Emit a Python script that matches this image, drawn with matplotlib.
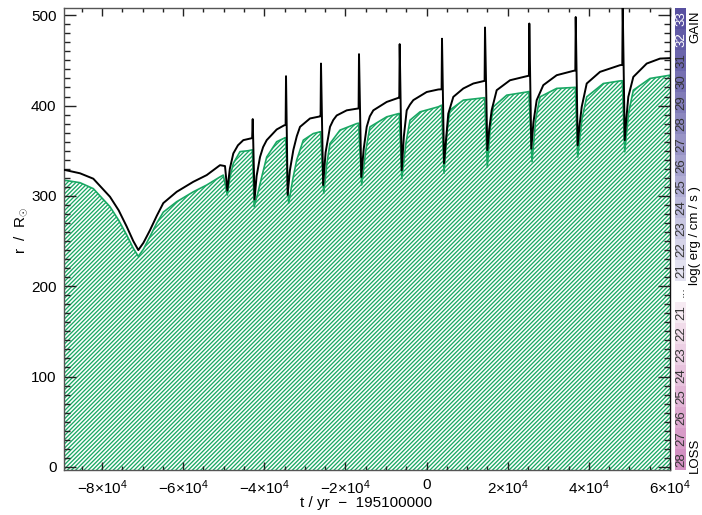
import matplotlib
matplotlib.use('Agg')
import matplotlib.pyplot as plt
from matplotlib.ticker import MultipleLocator

plt.rcParams['font.family'] = ['Liberation Sans', 'DejaVu Sans']
plt.rcParams['mathtext.fontset'] = 'custom'
plt.rcParams['mathtext.rm'] = 'Liberation Sans'
plt.rcParams['mathtext.it'] = 'Liberation Sans:italic'
plt.rcParams['mathtext.sf'] = 'Liberation Sans'
plt.rcParams['hatch.linewidth'] = 0.95

# ---------------- data (time in kyr relative to 195100000 yr) ----------------
t_star_kyr = [
    -89.5, -85.43, -82.15, -78.04, -75.9, -73.92, -72.3, -71.06, -69.8, -68.18, -66.5,
    -64.90, -61.60, -57.5, -54.2, -50.92, -49.69, -49.12, -48.5, -47.64, -46.5, -45.18,
    -43.53, -43.00,
    -42.86, -42.40, -41.9, -41.06, -40.3, -39.41, -36.95, -35.15, -34.75,
    -34.65, -34.25, -33.7, -32.85, -32.0, -31.2, -28.74, -26.27, -26.13,
    -26.03, -25.5, -24.9, -23.81, -23.0, -22.16, -19.69, -17.23, -16.76,
    -16.66, -16.1, -15.5, -14.76, -14.0, -13.13, -9.83, -6.97, -6.73,
    -6.63, -6.13, -5.6, -4.9, -4.1, -3.27, 0.03, 2.89, 3.70,
    3.80, 4.30, 4.79, 5.35, 6.59, 9.05, 11.52, 13.98, 14.30,
    14.40, 14.97, 15.45, 16.05, 17.28, 20.56, 24.68, 25.22,
    25.32, 25.81, 26.35, 27.14, 28.77, 32.07, 36.17, 36.66,
    36.76, 37.25, 37.7, 38.24, 39.47, 42.75, 47.68, 48.24,
    48.34, 48.84, 49.25, 49.72, 50.96, 54.26, 57.54, 60.0,
]
r_star = [
    329, 325, 319, 299, 284, 266, 250, 240, 248, 262, 278,
    292, 304.5, 315.6, 323, 334, 333, 306, 330, 347, 356, 361.7,
    363.4, 364,
    385, 296, 322, 343, 354, 361.7, 373.5, 378, 378.5,
    432.5, 301, 328, 350.7, 366, 376.4, 385.7, 388, 388.2,
    446.5, 312, 348, 376.4, 384, 389, 394.7, 396.5, 396.8,
    456.9, 321, 352, 376.4, 388, 394.7, 404, 408.5, 408.8,
    468, 328.5, 366, 394.7, 401, 406, 415, 417.8, 418,
    474, 336, 362, 391, 409.6, 418.9, 424.4, 427, 427.3,
    486.4, 350.7, 374, 395, 417, 428, 432.5, 433,
    490.8, 352.4, 382, 406, 422.6, 433.6, 438.4, 438.8,
    498, 356, 378, 398.6, 424.4, 437.3, 444.7, 445,
    512, 361.7, 386, 409.6, 431.7, 446.5, 452, 452.5,
]

t_conv_kyr = [
    -89.5, -85.43, -82.15, -78.04, -75.9, -73.92, -72.3, -71.06, -69.8, -68.18, -66.5,
    -64.90, -61.60, -57.5, -54.2, -50.92, -50.11, -49.12, -48.5, -47.64, -45.99,
    -43.95, -42.95,
    -42.5, -41.6, -40.64, -39.41, -36.95, -34.9, -34.75,
    -34.0, -33.0, -32.02, -30.39, -27.92, -26.27, -26.13,
    -25.35, -24.6, -23.81, -21.34, -17.23, -16.76,
    -16.0, -15.0, -13.95, -9.83, -6.97, -6.73,
    -6.1, -5.1, -4.09, -1.62, 2.89, 3.70,
    4.30, 5.0, 5.77, 9.05, 13.98, 14.30,
    14.97, 15.7, 16.45, 19.75, 24.68, 25.22,
    25.99, 26.9, 27.96, 32.07, 36.17, 36.66,
    37.25, 38.3, 39.47, 43.56, 47.68, 48.24,
    48.84, 49.8, 50.96, 55.07, 60.0,
]
r_conv = [
    317.5, 314.6, 308, 288, 273, 256.6, 242, 233, 241, 255, 270,
    282, 293.5, 304.5, 312, 321, 323, 301, 320, 336, 349,
    350, 351,
    288, 303, 321, 343, 360, 364.3, 364.5,
    291.7, 318, 339.6, 361.7, 369, 370.9, 371,
    302.7, 335, 357.9, 372.8, 380, 380.5,
    312, 350, 376.4, 387.5, 391, 391.2,
    319, 358, 383.8, 393, 398.6, 400.4,
    325, 370, 395, 406, 408.5, 408.7,
    332, 375, 398.6, 411.5, 415, 415.5,
    337.7, 385, 409.6, 419, 420, 420.2,
    343, 385, 409.6, 424.4, 427.3, 427.5,
    348.8, 392, 417, 430, 433.6,
]

x_ticks = [-80000, -60000, -40000, -20000, 0, 20000, 40000, 60000]
x_tick_labels = [r'$-8{\times}10^{4}$', r'$-6{\times}10^{4}$', r'$-4{\times}10^{4}$',
                 r'$-2{\times}10^{4}$', '0', r'$2{\times}10^{4}$',
                 r'$4{\times}10^{4}$', r'$6{\times}10^{4}$']
y_ticks = [0, 100, 200, 300, 400, 500]

gain_levels = [21, 22, 23, 24, 25, 26, 27, 28, 29, 30, 31, 32, 33]
gain_colors = ['#e3e2f0', '#d6d4e9', '#c9c7e2', '#bcbadb', '#b0add4', '#a4a1cd',
               '#9894c6', '#8c88bf', '#817cb8', '#7670b2', '#6b65ac', '#615aa6', '#5850a0']
loss_levels = [21, 22, 23, 24, 25, 26, 27, 28]
loss_colors = ['#f6eaf2', '#f1dcea', '#ecd0e4', '#e7c3dd', '#e2b6d6', '#dda9cf',
               '#d89cc8', '#d390c2']

# ---------------- figure ----------------
W, H = 702, 515
fig = plt.figure(figsize=(W / 100, H / 100), dpi=100)
ax = fig.add_axes([63.5 / W, (H - 470) / H, (670 - 63.5) / W, (470 - 8) / H])

green = '#1aa864'
t_conv = [v * 1000 for v in t_conv_kyr]
t_star = [v * 1000 for v in t_star_kyr]

ax.fill_between(t_conv, -10, r_conv, facecolor='white', edgecolor=green,
                hatch='////////', linewidth=0, zorder=1)
ax.plot(t_conv, r_conv, color=green, lw=1.2, zorder=2)
ax.plot(t_star, r_star, color='black', lw=1.4, zorder=3)

ax.set_xlim(-89500, 60000)
ax.set_ylim(-3.5, 508)
ax.set_xticks(x_ticks)
ax.set_xticklabels(x_tick_labels)
ax.set_yticks(y_ticks)
ax.xaxis.set_minor_locator(MultipleLocator(5000))
ax.yaxis.set_minor_locator(MultipleLocator(10))
ax.tick_params(axis='x', which='major', direction='in', length=6, width=1,
               top=True, bottom=True, labelsize=11, pad=6, color='#222')
ax.tick_params(axis='x', which='minor', direction='in', length=3, width=1,
               top=True, bottom=True, color='#222')
ax.tick_params(axis='y', which='major', direction='in', length=8.5, width=1,
               left=True, right=True, labelsize=11, pad=5, color='#222')
ax.tick_params(axis='y', which='minor', direction='in', length=4.5, width=1,
               left=True, right=True, color='#222')
for s in ax.spines.values():
    s.set_color('#555')
    s.set_linewidth(1.0)
ax.spines['right'].set_color('#111')

ax.set_ylabel(r'r  /  R$_{\odot}$', fontsize=11)
ax.yaxis.set_label_coords((30 - 63.5) / (670 - 63.5), (470 - 230) / (470 - 8))
fig.text(366 / W, 1 - 503 / H, 't / yr  \u2212  195100000', ha='center', va='center',
         fontsize=11)

# ---------------- colour legend ----------------
cax = fig.add_axes([675 / W, (H - 470) / H, 11 / W, (470 - 8) / H])
n_slots = len(gain_levels) + 1 + len(loss_levels)
cax.set_xlim(0, 1)
cax.set_ylim(0, n_slots)
cax.axis('off')
slot = 0
for lev, col in zip(loss_levels[::-1], loss_colors[::-1]):
    cax.bar(0.5, 1, bottom=slot, width=1, color=col, linewidth=0)
    cax.text(0.55, slot + 0.5, str(lev), rotation=90, ha='center', va='center',
             fontsize=9.5, color='#333')
    slot += 1
cax.text(0.55, slot + 0.5, '...', rotation=90, ha='center', va='center',
         fontsize=9.5, color='#333')
slot += 1
for lev, col in zip(gain_levels, gain_colors):
    cax.bar(0.5, 1, bottom=slot, width=1, color=col, linewidth=0)
    cax.text(0.55, slot + 0.5, str(lev), rotation=90, ha='center', va='center',
             fontsize=9.5, color='white' if lev >= 32 else '#333')
    slot += 1

fig.text(695 / W, 1 - 27 / H, 'GAIN', rotation=90, ha='center', va='center', fontsize=9.5)
fig.text(695 / W, 1 - 455 / H, 'LOSS', rotation=90, ha='center', va='center', fontsize=9.5)
fig.text(695 / W, 1 - 236 / H, 'log( erg / cm / s )', rotation=90, ha='center',
         va='center', fontsize=9.5)

fig.savefig('out.png', dpi=100)
